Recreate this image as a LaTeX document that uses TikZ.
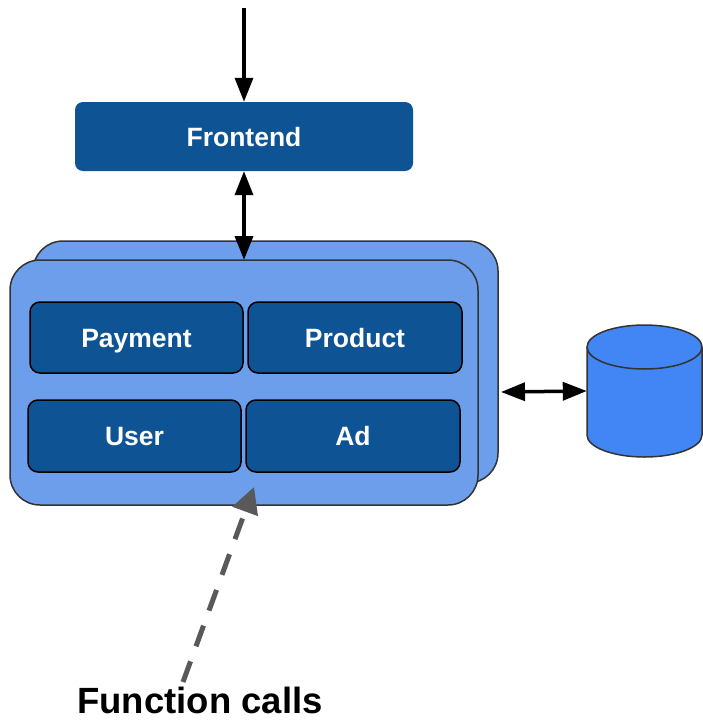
\documentclass[tikz,border=0pt]{standalone}
\usepackage{fontspec}
\setmainfont{Liberation Sans}
\usetikzlibrary{arrows.meta}
\definecolor{darkblue}{HTML}{0E5394}
\definecolor{midblue}{HTML}{6D9EEB}
\definecolor{cylblue}{HTML}{4285F4}
\definecolor{edge}{HTML}{333333}
\definecolor{dashgray}{HTML}{595959}
\tikzset{
  lbl/.style={text=white, font=\bfseries\fontsize{26.5}{30}\selectfont, text height=19pt, text depth=0pt, inner sep=0pt},
  svc/.style={lbl, draw=black, line width=1.5pt, fill=darkblue, rounded corners=10pt},
  cont/.style={draw=edge, line width=1.5pt, fill=midblue, rounded corners=30pt},
  tip/.style={Triangle[length=24pt,width=18pt]},
  arr/.style={line width=3.5pt, -{Triangle[length=24pt,width=18pt]}},
  darr/.style={line width=3.5pt, {Triangle[length=24pt,width=18pt]}-{Triangle[length=24pt,width=18pt]}},
}
\begin{document}
\begin{tikzpicture}[x=1pt,y=-1pt]
\useasboundingbox (0,0) rectangle (702,720);
% containers
\draw[cont] (33,241) rectangle (498,483);
\draw[cont] (10,260) rectangle (478,505);
\coordinate (conttop) at (244,260);
\coordinate (contright) at (501,392);
% frontend
\node[lbl, fill=darkblue, rounded corners=8pt, minimum width=338pt, minimum height=69pt] (fe) at (244,136.5) {Frontend};
\coordinate (topin) at (244,8);
% services
\node[svc, minimum width=213pt, minimum height=71pt] (pay) at (136.5,337.5) {Payment};
\node[svc, minimum width=214pt, minimum height=71pt] (prod) at (355,337.5) {Product};
\node[svc, minimum width=213pt, minimum height=72pt] (user) at (134.5,436) {User};
\node[svc, minimum width=214pt, minimum height=72pt] (ad) at (353,436) {Ad};
% cylinder database
\node[minimum width=115pt, minimum height=132pt, inner sep=0pt] (db) at (644.5,391) {};
\draw[draw=edge, line width=1.5pt, fill=cylblue]
  (587,347) -- (587,435) arc[start angle=180, end angle=360, x radius=57.5pt, y radius=22pt]
  -- (702,347) arc[start angle=0, end angle=180, x radius=57.5pt, y radius=22pt] -- cycle;
\draw[draw=edge, line width=1.5pt]
  (587,347) arc[start angle=180, end angle=360, x radius=57.5pt, y radius=22pt];
% arrows
\draw[arr] (topin) -- (fe.north);
\draw[darr] (fe.south) -- (conttop);
\draw[darr] (contright) -- (db.west);
% function calls
\node[font=\bfseries\fontsize{36.5}{40}\selectfont, anchor=base, inner sep=0pt] (fc) at (200,713) {Function calls};
\coordinate (fcstart) at (183,682);
\coordinate (fcend) at (254,487);
\draw[dashgray, line width=5pt, dash pattern=on 22pt off 16pt, -{Triangle[length=26pt,width=26pt]}] (fcstart) -- (fcend);
\end{tikzpicture}
\end{document}
